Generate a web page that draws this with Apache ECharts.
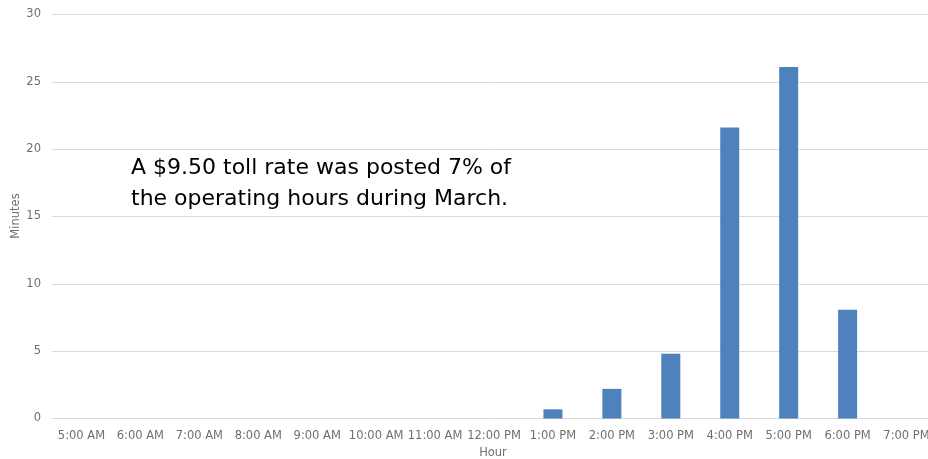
<!DOCTYPE html>
<html><head><meta charset="utf-8">
<script src="https://cdn.jsdelivr.net/npm/echarts@6/dist/echarts.min.js"></script>
<style>html,body{margin:0;padding:0;background:#fff}#c{width:928px;height:459px}</style>
</head><body><div id="c"></div>
<script>
const categories = ['5:00 AM','6:00 AM','7:00 AM','8:00 AM','9:00 AM','10:00 AM','11:00 AM','12:00 PM','1:00 PM','2:00 PM','3:00 PM','4:00 PM','5:00 PM','6:00 PM','7:00 PM'];
const minutes = [0,0,0,0,0,0,0,0,0.68,2.2,4.8,21.6,26.1,8.07,0];
const annotationLines = ['A $9.50 toll rate was posted 7% of','the operating hours during March.'];
const xAxisTitle = 'Hour';
const yAxisTitle = 'Minutes';
const FONT = '"DejaVu Sans", sans-serif';
const chart = echarts.init(document.getElementById('c'));
chart.setOption({
  animation:false,
  grid:{left:52,width:884,top:14.5,height:404,containLabel:false,outerBoundsMode:'none'},
  xAxis:{type:'category',data:categories,
    axisLine:{show:true,lineStyle:{color:'#d9d9d9'}},axisTick:{show:false},
    axisLabel:{color:'#6f6f6f',fontSize:11.5,fontFamily:FONT,margin:12,interval:0}},
  yAxis:{type:'value',min:0,max:30,interval:5,
    axisLine:{show:false},axisTick:{show:false},
    splitLine:{lineStyle:{color:'#d9d9d9'}},
    axisLabel:{color:'#6f6f6f',fontSize:11.5,fontFamily:FONT,margin:11}},
  series:[{type:'bar',data:minutes,barWidth:19,itemStyle:{color:'#4f81bd'}}],
  graphic:[
    {type:'text',left:131,top:153,style:{text:annotationLines.join('\n'),fontSize:22,lineHeight:31,fontFamily:FONT,fill:'#000'}},
    {type:'text',x:493,y:453,style:{text:xAxisTitle,fontSize:11.5,fontFamily:FONT,fill:'#6f6f6f',align:'center',verticalAlign:'middle'}},
    {type:'text',x:16,y:216,rotation:Math.PI/2,style:{text:yAxisTitle,fontSize:11.5,fontFamily:FONT,fill:'#6f6f6f',align:'center',verticalAlign:'middle'}}
  ]
});
</script></body></html>
